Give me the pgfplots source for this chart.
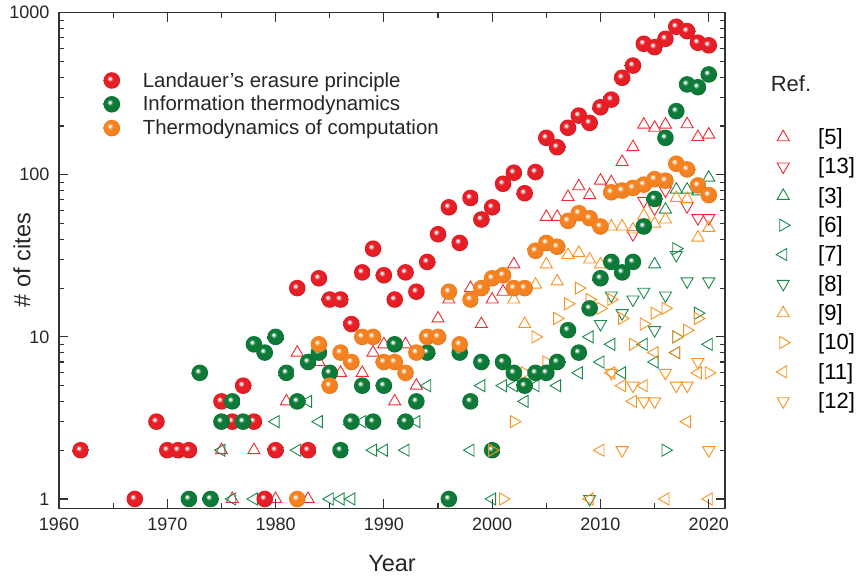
\documentclass[border=0pt]{standalone}
\usepackage{fontspec}
\setmainfont{Liberation Sans}
\usepackage{pgfplots}
\pgfplotsset{compat=1.18}
\definecolor{cR}{HTML}{E61E26}
\definecolor{cG}{HTML}{0E7A38}
\definecolor{cO}{HTML}{F58220}
\definecolor{tR}{HTML}{EE2A2F}
\definecolor{tG}{HTML}{1A8A4A}
\definecolor{tO}{HTML}{F7931E}
\definecolor{ax}{HTML}{333333}
\newcommand\mkball[2]{%
 \pgfdeclareradialshading{#1shade}{\pgfpoint{-7bp}{7bp}}{color(0bp)=(white); color(2bp)=(white); color(9bp)=(#2); color(22bp)=(#2); color(34bp)=(#2!78!black); color(50bp)=(#2!55!black)}%
 \pgfdeclareplotmark{#1}{\pgfpathcircle{\pgfpointorigin}{\pgfplotmarksize}\pgfshadepath{#1shade}{0}\pgfusepath{}}}
\mkball{ballR}{cR}
\mkball{ballG}{cG}
\mkball{ballO}{cO}
\tikzset{
 mytriU/.style={mark=triangle, mark size=7bp, line width=0.9bp, mark options={solid, fill=none}},
 mytriD/.style={mark=triangle, mark size=7bp, line width=0.9bp, mark options={solid, fill=none, rotate=180}},
 mytriL/.style={mark=triangle, mark size=7bp, line width=0.9bp, mark options={solid, fill=none, rotate=90}},
 mytriR/.style={mark=triangle, mark size=7bp, line width=0.9bp, mark options={solid, fill=none, rotate=-90}},
}
\begin{document}
\begin{tikzpicture}
\path[use as bounding box] (0,0) rectangle (859bp,576bp);
% ---------------- references (triangles)
\begin{axis}[at={(59bp,67.7bp)}, anchor=south west, scale only axis, width=666bp, height=495.6bp,
 xmin=1960, xmax=2021.5, ymode=log, ymin=0.876, ymax=1000, clip=false, hide axis,
 legend image code/.code={\path[draw=none, fill=none] (-8bp,-8bp) rectangle (8bp,8bp); \draw[#1] plot coordinates {(0bp,0bp)};},
 legend cell align=left,
 legend style={draw=none, fill=none, at={(1.0706,0.7708)}, anchor=north west,
   font=\fontsize{22bp}{24bp}\selectfont, nodes={inner sep=0pt}, row sep=11.9bp,
   /tikz/every odd column/.append style={column sep=27bp}}]
\addplot[only marks, mytriU, color=tR] coordinates {(1975,2)(1976,1)(1978,2)(1980,1)(1981,4)(1982,8)(1983,1)(1984,7)(1986,6)(1988,6)(1989,8)(1990,9)(1991,4)(1992,9)(1993,5)(1995,13)(1996,17)(1998,20)(1999,12)(2000,17)(2001,19)(2002,28)(2005,55)(2006,55)(2007,73)(2008,85)(2009,75)(2010,92)(2011,90)(2012,120)(2013,148)(2014,204)(2015,195)(2016,204)(2018,205)(2019,171)(2020,177)};
\addlegendentry{[5]}
\addplot[only marks, mytriD, color=tR] coordinates {(2013,43)(2014,69)(2015,62)(2016,80)(2018,64)(2019,54)(2020,54)};
\addlegendentry{[13]}
\addplot[only marks, mytriU, color=tG] coordinates {(2015,28)(2016,61)(2017,81)(2018,81)(2019,79)(2020,96)};
\addlegendentry{[3]}
\addplot[only marks, mytriR, color=tG] coordinates {(2016,2)(2017,35)(2017,10)(2019,14)};
\addlegendentry{[6]}
\addplot[only marks, mytriL, color=tG] coordinates {(1975,2)(1976,1)(1978,1)(1980,3)(1982,2)(1983,4)(1984,3)(1985,1)(1986,1)(1987,1)(1988,3)(1989,2)(1990,2)(1992,2)(1993,3)(1994,5)(1998,2)(1999,5)(2000,1)(2001,5)(2002,5)(2003,4)(2004,5)(2006,5)(2008,6)(2009,10)(2010,7)(2011,9)(2012,6)(2014,9)(2015,7)(2017,8)(2020,9)};
\addlegendentry{[7]}
\addplot[only marks, mytriD, color=tG] coordinates {(2009,1)(2010,12)(2011,18)(2012,14)(2013,17)(2014,19)(2015,11)(2016,18)(2017,32)(2018,22)(2020,22)};
\addlegendentry{[8]}
\addplot[only marks, mytriU, color=tO] coordinates {(2002,17)(2003,12)(2004,21)(2005,28)(2006,22)(2007,32)(2008,33)(2009,30)(2010,28)(2011,48)(2012,48)(2013,46)(2014,56)(2015,50)(2016,53)(2017,72)(2018,71)(2019,41)(2020,47)};
\addlegendentry{[9]}
\addplot[only marks, mytriR, color=tO] coordinates {(2001,1)(2002,3)(2003,6)(2004,10)(2005,7)(2006,13)(2007,16)(2008,20)(2009,17)(2010,15)(2011,17)(2012,13)(2013,9)(2014,12)(2015,14)(2016,15)(2017,10)(2018,11)(2019,13)(2020,6)};
\addlegendentry{[10]}
\addplot[only marks, mytriL, color=tO] coordinates {(2009,1)(2010,2)(2011,6)(2012,5)(2013,4)(2014,5)(2015,8)(2016,1)(2017,8)(2018,3)(2019,6)(2020,1)};
\addlegendentry{[11]}
\addplot[only marks, mytriD, color=tO] coordinates {(2011,6)(2012,2)(2013,5)(2014,4)(2015,4)(2016,6)(2017,5)(2018,5)(2019,7)(2020,2)};
\addlegendentry{[12]}
\end{axis}
% ---------------- main axis (spheres)
\begin{axis}[at={(59bp,67.7bp)}, anchor=south west, scale only axis, width=666bp, height=495.6bp,
 xmin=1960, xmax=2021.5, ymode=log, ymin=0.876, ymax=1000, clip=false,
 axis line style={ax, line width=1.2bp},
 every tick/.style={ax, line width=1.1bp},
 tick align=inside, xtick pos=both, ytick pos=both,
 major tick length=9.5bp, minor tick length=5.5bp,
 xtick={1960,1970,1980,1990,2000,2010,2020},
 xticklabels={1960,1970,1980,1990,2000,2010,2020},
 minor x tick num=1,
 ytick={1,10,100,1000}, yticklabels={1,10,100,1000},
 tick label style={font=\fontsize{18bp}{20bp}\selectfont, text=black!85},
 xticklabel style={yshift=-6bp},
 yticklabel style={xshift=-6bp},
 xlabel={Year}, ylabel={\# of cites},
 label style={font=\fontsize{23.5bp}{26bp}\selectfont, text=black!85},
 xlabel style={at={(axis description cs:0.5,-0.111)}, anchor=center},
 ylabel style={at={(axis description cs:-0.0556,0.501)}, anchor=center},
 legend image code/.code={\path[draw=none, fill=none] (-9bp,-9bp) rectangle (9bp,9bp); \draw[#1] plot coordinates {(0bp,0bp)};},
 legend cell align=left,
 legend style={draw=none, fill=none, at={(0.061,0.8858)}, anchor=north west,
   font=\fontsize{20.4bp}{22bp}\selectfont, nodes={inner sep=0pt, text=black!85}, row sep=5.8bp,
   /tikz/every odd column/.append style={column sep=22bp}}]
\addplot[only marks, mark=ballR, mark size=8.3bp] coordinates {(1962,2)(1967,1)(1969,3)(1970,2)(1971,2)(1972,2)(1975,4)(1976,3)(1977,5)(1978,3)(1979,1)(1980,2)(1982,20)(1983,2)(1984,23)(1985,17)(1986,17)(1987,12)(1988,25)(1989,35)(1990,24)(1991,17)(1992,25)(1993,19)(1994,29)(1995,43)(1996,63)(1997,38)(1998,72)(1999,53)(2000,63)(2001,88)(2002,103)(2003,77)(2004,104)(2005,169)(2006,148)(2007,195)(2008,232)(2009,209)(2010,261)(2011,291)(2012,397)(2013,472)(2014,643)(2015,613)(2016,690)(2017,819)(2018,770)(2019,653)(2020,629)};
\addlegendentry{Landauer's erasure principle}
\addplot[only marks, mark=ballG, mark size=8.3bp] coordinates {(1972,1)(1973,6)(1974,1)(1975,3)(1976,4)(1977,3)(1978,9)(1979,8)(1980,10)(1981,6)(1982,4)(1983,7)(1984,8)(1985,6)(1986,2)(1987,3)(1988,5)(1989,3)(1990,5)(1991,9)(1992,3)(1993,4)(1994,8)(1996,1)(1997,8)(1998,4)(1999,7)(2000,2)(2001,7)(2002,6)(2003,5)(2004,6)(2005,6)(2006,7)(2007,11)(2008,8)(2009,15)(2010,23)(2011,29)(2012,25)(2013,29)(2014,48)(2015,71)(2016,169)(2017,247)(2018,361)(2019,347)(2020,416)};
\addlegendentry{Information thermodynamics}
\addplot[only marks, mark=ballO, mark size=8.3bp] coordinates {(1982,1)(1984,9)(1985,5)(1986,8)(1987,7)(1988,10)(1989,10)(1990,7)(1991,7)(1992,6)(1993,8)(1994,10)(1995,10)(1996,19)(1997,9)(1998,17)(1999,20)(2000,23)(2001,24)(2002,20)(2003,20)(2004,34)(2005,38)(2006,36)(2007,52)(2008,58)(2009,54)(2010,48)(2011,78)(2012,80)(2013,83)(2014,87)(2015,94)(2016,92)(2017,117)(2018,108)(2019,86)(2020,75)};
\addlegendentry{Thermodynamics of computation}
\addplot[only marks, mytriR, color=tO, forget plot] coordinates {(2000,2)};
\end{axis}
\node[font=\fontsize{22bp}{24bp}\selectfont, text=black!85] at (791bp,492bp) {Ref.};
\end{tikzpicture}
\end{document}
